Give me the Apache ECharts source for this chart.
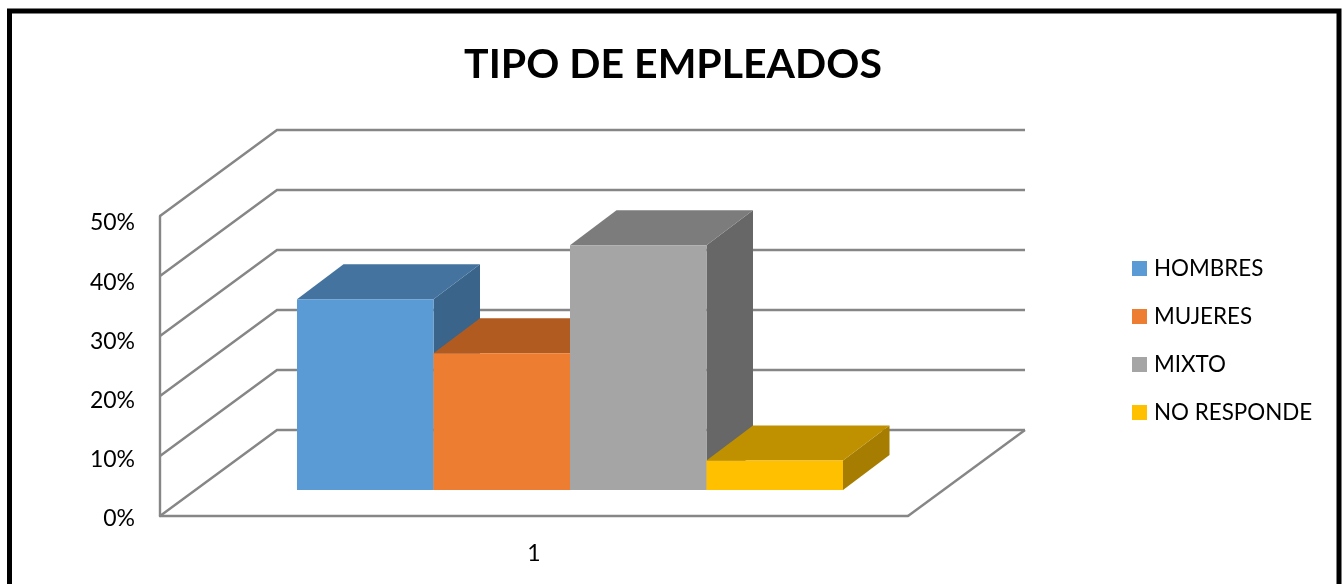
<!DOCTYPE html>
<html>
<head>
<meta charset="utf-8">
<style>html,body{margin:0;padding:0;background:#fff}#c{width:1342px;height:584px}</style>
<script src="https://cdn.jsdelivr.net/npm/echarts@6/dist/echarts.min.js"></script>
</head>
<body>
<div id="c"></div>
<script>
var categories = ['1'];
var seriesNames = ['HOMBRES', 'MUJERES', 'MIXTO', 'NO RESPONDE'];
var hombres = [31.8];
var mujeres = [22.8];
var mixto = [40.8];
var noResponde = [4.9];
var gridValues = [0, 10, 20, 30, 40, 50];

var FONT = 'Lato, Carlito, sans-serif';
var palettes = [
  {front: '#5B9BD5', top: '#44739F', side: '#3A6489'},
  {front: '#ED7D31', top: '#B15B20', side: '#A55420'},
  {front: '#A5A5A5', top: '#7C7C7C', side: '#676767'},
  {front: '#FFC000', top: '#BF9000', side: '#A67D00'}
];
var floorDx = 117, floorDy = 86;
var seatDx = 36, seatDy = 26;
var barDx = 46.5, barDy = 35;
var gapShare = 1.48;
var lineColor = '#868686';
var LINE_W = 2.4;

function wallItem(params, api) {
  var p = api.coord([0, api.value(0)]);
  var cs = params.coordSys;
  var left = cs.x, right = cs.x + cs.width;
  var children = [{
    type: 'polyline',
    shape: {points: [[left, p[1]], [left + floorDx, p[1] - floorDy], [right + floorDx, p[1] - floorDy]]},
    style: {stroke: lineColor, lineWidth: LINE_W, fill: null}
  }];
  if (api.value(0) === 0) {
    children.push({
      type: 'line',
      shape: {x1: right, y1: p[1], x2: right + floorDx, y2: p[1] - floorDy},
      style: {stroke: lineColor, lineWidth: LINE_W}
    });
  }
  return {type: 'group', children: children};
}

function barRenderer(i) {
  return function (params, api) {
    var top = api.coord([api.value(0), api.value(1)]);
    var base = api.coord([api.value(0), 0]);
    var band = api.size([1, 0])[0];
    var w = band / (seriesNames.length + gapShare);
    var x0 = top[0] - w * seriesNames.length / 2 + i * w + seatDx;
    var x1 = x0 + w;
    var yt = top[1] - seatDy;
    var yb = base[1] - seatDy;
    var c = palettes[i];
    return {type: 'group', children: [
      {type: 'polygon', shape: {points: [[x1, yt], [x1 + barDx, yt - barDy], [x1 + barDx, yb - barDy], [x1, yb]]}, style: {fill: c.side}},
      {type: 'polygon', shape: {points: [[x0, yt], [x0 + barDx, yt - barDy], [x1 + barDx, yt - barDy], [x1, yt]]}, style: {fill: c.top}},
      {type: 'rect', shape: {x: x0, y: yt, width: w, height: yb - yt}, style: {fill: c.front}}
    ]};
  };
}

var allValues = [hombres, mujeres, mixto, noResponde];
var series = [{
  type: 'custom',
  name: 'walls',
  silent: true,
  clip: false,
  renderItem: wallItem,
  encode: {y: 0},
  data: gridValues.map(function (v) { return [v]; }),
  xAxisIndex: 0,
  yAxisIndex: 0
}];
seriesNames.forEach(function (name, i) {
  series.push({
    type: 'custom',
    name: name,
    clip: false,
    renderItem: barRenderer(i),
    encode: {x: 0, y: 1},
    itemStyle: {color: palettes[i].front},
    data: allValues[i].map(function (v, k) { return [k, v]; }),
    xAxisIndex: 0,
    yAxisIndex: 0
  });
});

var chart = echarts.init(document.getElementById('c'), null, {renderer: 'canvas'});
chart.setOption({
  animation: false,
  backgroundColor: '#fff',
  color: palettes.map(function (p) { return p.front; }),
  title: {
    text: 'TIPO DE EMPLEADOS',
    left: 668,
    top: 39,
    textAlign: 'center',
    textStyle: {fontFamily: FONT, fontWeight: 'bold', fontSize: 41, color: '#000'}
  },
  legend: {
    data: seriesNames,
    orient: 'vertical',
    left: 1127,
    top: 247,
    itemWidth: 15,
    itemHeight: 15,
    itemGap: 15,
    icon: 'rect',
    selectedMode: false,
    textStyle: {fontFamily: FONT, fontSize: 22.4, color: '#000', padding: [7, 0, 0, 2], lineHeight: 26}
  },
  grid: [
    {left: 160, width: 748, top: 216, height: 300},
    {left: 160, width: 748, top: 223, height: 296}
  ],
  xAxis: [
    {
      type: 'category',
      gridIndex: 0,
      data: categories,
      axisTick: {show: false},
      axisLine: {show: true, lineStyle: {color: lineColor, width: LINE_W}},
      axisLabel: {margin: 26, fontFamily: FONT, fontSize: 23, color: '#000'}
    },
    {type: 'category', gridIndex: 1, data: categories, show: false}
  ],
  yAxis: [
    {
      type: 'value',
      gridIndex: 0,
      min: 0,
      max: 50,
      interval: 10,
      axisLabel: {show: false},
      axisTick: {show: false},
      splitLine: {show: false},
      axisLine: {show: true, lineStyle: {color: lineColor, width: LINE_W}}
    },
    {
      type: 'value',
      gridIndex: 1,
      min: 0,
      max: 50,
      interval: 10,
      axisTick: {show: false},
      splitLine: {show: false},
      axisLine: {show: false},
      axisLabel: {margin: 25, fontFamily: FONT, fontSize: 23, color: '#000', formatter: '{value}%'}
    }
  ],
  graphic: [{
    type: 'rect',
    silent: true,
    z: 100,
    shape: {x: 9.5, y: 11, width: 1329.5, height: 620},
    style: {fill: null, stroke: '#000', lineWidth: 5}
  }],
  series: series
});
</script>
</body>
</html>
